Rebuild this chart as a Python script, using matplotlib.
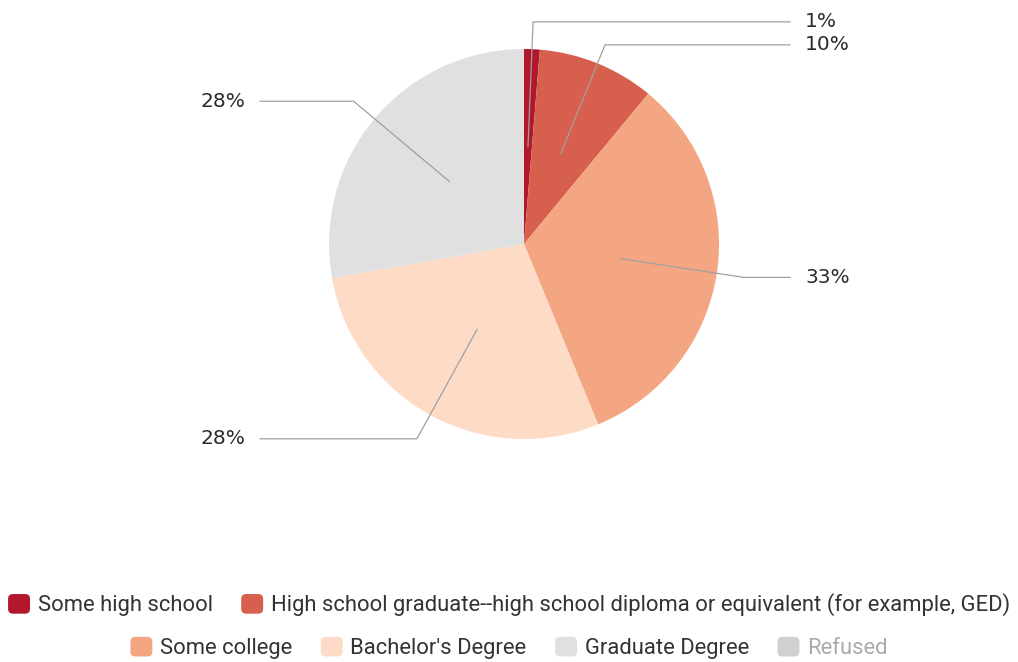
import numpy as np
from matplotlib import pyplot as plt
from matplotlib.patches import Patch, FancyBboxPatch
from matplotlib.legend_handler import HandlerPatch

plt.rcParams['font.family'] = ['Roboto', 'DejaVu Sans']

# data
categories = ["Some high school",
              "High school graduate--high school diploma or equivalent (for example, GED)",
              "Some college", "Bachelor's Degree", "Graduate Degree", "Refused"]
values = [1.3, 9.7, 32.8, 28.4, 27.8, 0]
colors = ["#b2182b", "#d6604d", "#f4a582", "#fddbc7", "#e0e0e0", "#d0d0d0"]

W, H = 1018, 662
fig = plt.figure(figsize=(W/100, H/100), dpi=100)
ax = fig.add_axes([0, 0, 1, 1])

cx, cy, R = 524, H-244, 195
shown = [(v, c) for v, c in zip(values, colors) if v > 0]
wedges, _ = ax.pie([v for v, c in shown], colors=[c for v, c in shown], startangle=90,
                   counterclock=False, radius=R, center=(cx, cy),
                   wedgeprops=dict(linewidth=0))
ax.set_xlim(0, W)
ax.set_ylim(0, H)
ax.set_aspect('equal')
ax.axis('off')

# leader lines + labels
right, left = [], []
for w, (v, c) in zip(wedges, shown):
	mid = np.deg2rad((w.theta1+w.theta2)/2)
	ux, uy = np.cos(mid), np.sin(mid)
	ly = cy + 1.14*R*uy
	item = [ux, uy, ly, "%d%%" % round(v)]
	(right if ux >= 0 else left).append(item)

# keep labels apart on each side
for side in (right, left):
	side.sort(key=lambda it: -it[2])
	for i in range(1, len(side)):
		if side[i-1][2] - side[i][2] < 23:
			side[i][2] = side[i-1][2] - 23

for side, xl, xt, ha in ((right, 790, 805, 'left'), (left, 260, 245, 'right')):
	for ux, uy, ly, txt in side:
		ax0, ay0 = cx + 0.5*R*ux, cy + 0.5*R*uy
		t = (ly-ay0)/uy if abs(uy) > 1e-6 else 0
		ex = ax0 + t*ux
		ax.plot([ax0, ex, xl], [ay0, ly, ly], color='#a0a0a0', lw=0.9)
		ax.text(xt, ly, txt, ha=ha, va='center', fontsize=14.5, color='#2b2b2b',
		        family=['DejaVu Sans'])

# legend, two centred rows, rounded swatches
def rounded(legend, orig_handle, xdescent, ydescent, width, height, fontsize):
	return FancyBboxPatch((-xdescent, -ydescent), width, height,
	                      boxstyle="round,pad=0,rounding_size=3.5")

handles = [Patch(facecolor=c, edgecolor='none') for c in colors]
kw = dict(loc='center', frameon=False, fontsize=15.8, handlelength=1.0, handleheight=1.0,
          handletextpad=0.35, columnspacing=1.3, labelcolor='#333333',
          handler_map={Patch: HandlerPatch(patch_func=rounded)})
leg1 = fig.legend(handles[:2], categories[:2], ncol=2, bbox_to_anchor=(0.5, 1-605/H), **kw)
leg2 = fig.legend(handles[2:], categories[2:], ncol=4, bbox_to_anchor=(0.5, 1-648/H), **kw)
leg2.get_texts()[3].set_color('#aaaaaa')

fig.savefig("out.png", dpi=100)
